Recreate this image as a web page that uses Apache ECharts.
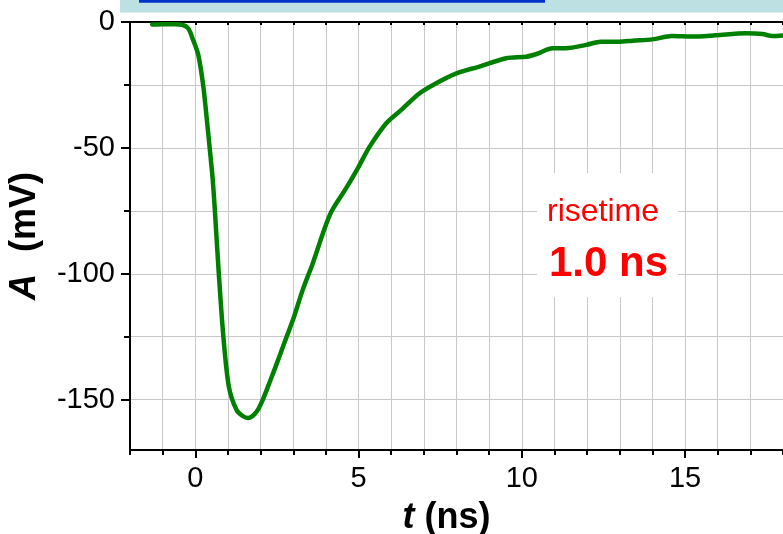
<!DOCTYPE html>
<html>
<head>
<meta charset="utf-8">
<script src="https://cdn.jsdelivr.net/npm/echarts@6/dist/echarts.min.js"></script>
<style>html,body{margin:0;padding:0;background:#fff}#c{width:783px;height:534px}</style>
</head>
<body>
<div id="c"></div>
<script>
// time (ns)
var tValues = [-1.32, -1.0, -0.6, -0.4, -0.22, -0.07, 0.09, 0.24, 0.34, 0.44, 0.53, 0.60, 0.72, 0.86, 1.03, 1.26, 1.45, 1.62, 1.78, 1.92, 2.1, 2.28, 2.5, 2.74, 3.0, 3.3, 3.6, 3.91, 4.17, 4.62, 4.98, 5.34, 5.85, 6.31, 6.87, 7.38, 8.0, 8.7, 9.52, 10.13, 10.5, 10.94, 11.35, 11.97, 12.42, 12.98, 13.4, 14.0, 14.6, 15.2, 15.94, 16.86, 17.37, 17.67, 18.0];
// amplitude (mV)
var aValues = [-1.0, -0.9, -0.9, -1.1, -2.5, -7, -13, -25, -37, -50, -62, -75, -100, -125, -145, -154, -156.5, -157.3, -156.2, -154, -149, -143, -135.5, -127, -118, -106, -95.8, -83.9, -75.3, -66, -58, -49.5, -40.2, -34.9, -28.3, -24.3, -20.4, -17.7, -14.4, -13.8, -12.5, -10.4, -10.4, -9.1, -7.8, -7.8, -7.4, -6.9, -5.6, -5.8, -5.3, -4.5, -4.8, -5.6, -5.4];
var xLabelValues = [0, 5, 10, 15];
var yTickValues = [0, -25, -50, -75, -100, -125, -150];
var yLabelValues = [0, -50, -100, -150];
var annotationLines = ['risetime', '1.0 ns'];

var data = tValues.map(function (t, i) { return [t, aValues[i]]; });

var chart = echarts.init(document.getElementById('c'), null, {renderer: 'canvas'});
var font = 'Arial, "Liberation Sans", sans-serif';
var grid = {left: 130, right: 0, top: 22, bottom: 84, containLabel: false, outerBoundsMode: 'none'};

chart.setOption({
  animation: false,
  backgroundColor: '#fff',
  grid: grid,
  xAxis: [
    {
      type: 'value', min: -2, max: 18, interval: 1, position: 'bottom',
      axisLine: {show: true, onZero: false, lineStyle: {color: '#000', width: 2}},
      axisTick: {show: true, inside: false, length: 5, lineStyle: {color: '#000', width: 2}},
      axisLabel: {show: true, customValues: xLabelValues, fontSize: 29, color: '#000', fontFamily: font, margin: 14},
      splitLine: {show: true, lineStyle: {color: '#c8c8c8', width: 1}},
      name: '{i|t}{b|(ns)}', nameLocation: 'middle', nameGap: 50,
      nameTextStyle: {padding: [0, 20, 0, 0], rich: {
        i: {fontSize: 36, fontWeight: 'bold', fontStyle: 'italic', fontFamily: font, color: '#000', padding: [0, 10, 0, 0]},
        b: {fontSize: 36, fontWeight: 'bold', fontFamily: font, color: '#000'}
      }}
    },
    {
      type: 'value', min: -2, max: 18, position: 'bottom',
      axisLine: {show: false, onZero: false},
      axisTick: {show: true, customValues: xLabelValues, length: 8, lineStyle: {color: '#000', width: 2}},
      axisLabel: {show: false}, splitLine: {show: false}
    },
    {
      type: 'value', min: -2, max: 18, interval: 1, position: 'top',
      axisLine: {show: true, onZero: false, lineStyle: {color: '#000', width: 2}},
      axisTick: {show: true, inside: true, length: 3, lineStyle: {color: '#000', width: 2}},
      axisLabel: {show: false}, splitLine: {show: false}
    }
  ],
  yAxis: [
    {
      type: 'value', min: -170, max: 0, position: 'left',
      axisLine: {show: true, onZero: false, lineStyle: {color: '#000', width: 2}},
      axisTick: {show: true, customValues: yTickValues, length: 6, lineStyle: {color: '#000', width: 2}},
      axisLabel: {show: true, customValues: yLabelValues, fontSize: 29, color: '#000', fontFamily: font, margin: 15},
      splitLine: {show: true, lineStyle: {color: '#c8c8c8', width: 1}},
      name: '{i|A}{b|(mV)}', nameLocation: 'middle', nameGap: 87, nameRotate: 90,
      nameTextStyle: {padding: [0, 0, 0, 0], rich: {
        i: {fontSize: 36, fontWeight: 'bold', fontStyle: 'italic', fontFamily: font, color: '#000', padding: [0, 22, 0, 0]},
        b: {fontSize: 36, fontWeight: 'bold', fontFamily: font, color: '#000'}
      }}
    },
    {
      type: 'value', min: -170, max: 0, position: 'left',
      axisLine: {show: false, onZero: false},
      axisTick: {show: true, customValues: yLabelValues, length: 9, lineStyle: {color: '#000', width: 2}},
      axisLabel: {show: false}, splitLine: {show: false}
    }
  ],
  series: [{
    type: 'line', data: data, xAxisIndex: 0, yAxisIndex: 0,
    showSymbol: false, symbol: 'none', smooth: 0.3, clip: true,
    lineStyle: {color: '#008000', width: 4.5, cap: 'round', join: 'round'}, z: 5
  }],
  graphic: [
    {type: 'rect', left: 120, top: 0, shape: {width: 663, height: 12.5}, style: {fill: '#bde0e3'}, z: 1},
    {type: 'rect', left: 139, top: 0, shape: {width: 406, height: 2.7}, style: {fill: '#0033cc'}, z: 2},
    {type: 'rect', left: 537, top: 173, shape: {width: 141, height: 124}, style: {fill: '#fff'}, z: 1},
    {type: 'text', left: 547, top: 196, style: {text: annotationLines[0], fill: '#ff0000', fontSize: 32, fontFamily: font}, z: 3},
    {type: 'text', left: 549, top: 243, style: {text: annotationLines[1], fill: '#ff0000', fontSize: 42, fontWeight: 'bold', fontFamily: font}, z: 3}
  ]
});
</script>
</body>
</html>
